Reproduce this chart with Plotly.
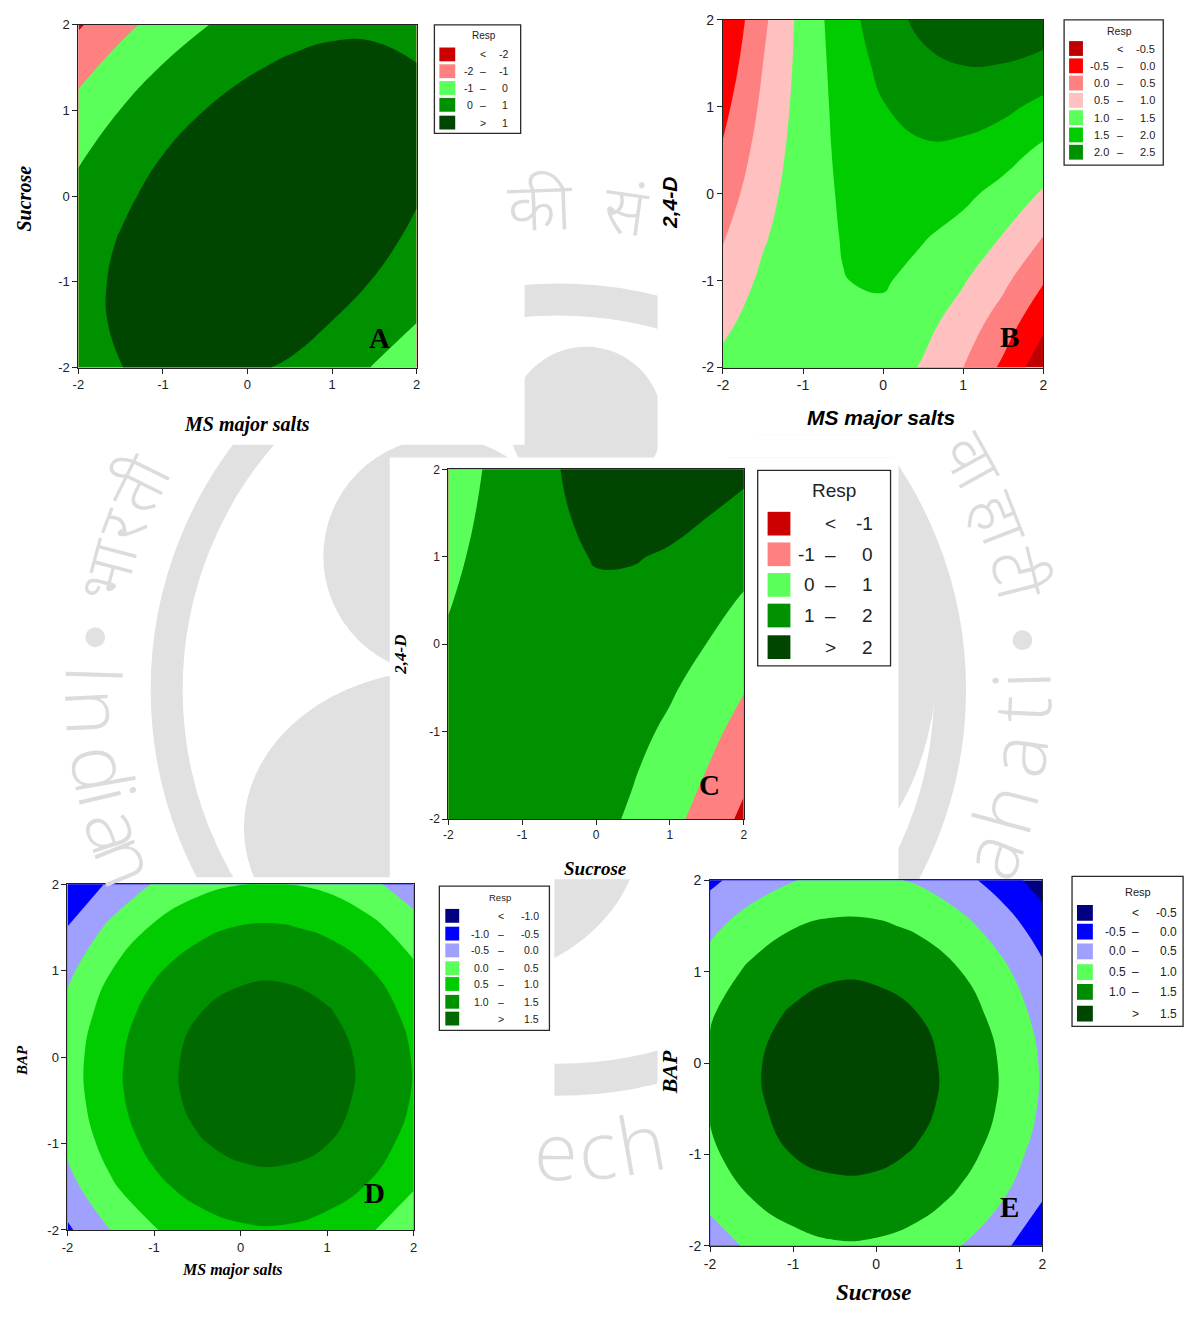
import math
import plotly.graph_objects as go

# ---------------- chart data ----------------
grid = [-2.0, -1.5, -1.0, -0.5, 0.0, 0.5, 1.0, 1.5, 2.0]   # coded factor levels (x and y)
tick_vals = [-2, -1, 0, 1, 2]
tick_text = ["-2", "-1", "0", "1", "2"]

panel_letters = ["A", "B", "C", "D", "E"]
x_titles = ["MS major salts", "MS major salts", "Sucrose", "MS major salts", "Sucrose"]
y_titles = ["Sucrose", "2,4-D", "2,4-D", "BAP", "BAP"]
legend_title = "Resp"

# Panel A  (rows: y = -2 ... 2, columns: x = -2 ... 2)
a_levels = [-2, -1, 0, 1]
a_colors = ["#cc0000", "#ff8080", "#5aff5a", "#009100", "#004600"]
a_resp = [
    [0.68, 0.99, 1.16, 1.19, 1.10, 0.92, 0.55, -0.06, -0.63],
    [0.74, 1.11, 1.35, 1.45, 1.42, 1.26, 0.97, 0.54, -0.02],
    [0.71, 1.14, 1.45, 1.61, 1.65, 1.55, 1.33, 0.96, 0.47],
    [0.55, 1.05, 1.42, 1.65, 1.75, 1.72, 1.56, 1.26, 0.83],
    [0.27, 0.83, 1.27, 1.56, 1.73, 1.76, 1.67, 1.43, 1.07],
    [-0.14, 0.49, 0.99, 1.35, 1.58, 1.68, 1.65, 1.48, 1.18],
    [-0.67, 0.02, 0.59, 1.01, 1.31, 1.47, 1.51, 1.40, 1.17],
    [-1.33, -0.57, 0.06, 0.55, 0.91, 1.14, 1.24, 1.20, 1.03],
    [-2.11, -1.29, -0.60, -0.04, 0.39, 0.68, 0.85, 0.87, 0.77],
]

# Panel B
b_levels = [-0.5, 0.0, 0.5, 1.0, 1.5, 2.0, 2.5]
b_colors = ["#c00000", "#ff0000", "#ff8080", "#ffc0c0", "#5aff5a", "#00cc00", "#009100", "#006000"]
b_resp = [
    [1.13, 1.37, 1.48, 1.44, 1.27, 0.95, 0.50, -0.10, -0.83],
    [0.90, 1.23, 1.41, 1.46, 1.37, 1.14, 0.77, 0.25, -0.40],
    [0.68, 1.09, 1.36, 1.49, 1.55, 1.33, 1.04, 0.61, 0.04],
    [0.46, 0.95, 1.31, 1.52, 1.59, 1.53, 1.32, 0.97, 0.49],
    [0.25, 0.83, 1.26, 1.56, 1.72, 1.73, 1.61, 1.34, 0.94],
    [0.05, 0.71, 1.23, 1.61, 1.85, 1.94, 1.90, 1.72, 1.40],
    [-0.14, 0.60, 1.20, 1.66, 1.98, 2.17, 2.21, 2.11, 1.87],
    [-0.33, 0.50, 1.18, 1.72, 2.13, 2.39, 2.52, 2.50, 2.35],
    [-0.49, 0.40, 1.17, 1.79, 2.28, 2.63, 2.84, 2.90, 2.83],
]

# Panel C
c_levels = [-1, 0, 1, 2]
c_colors = ["#cc0000", "#ff8080", "#5aff5a", "#009100", "#004600"]
c_resp = [
    [1.85, 1.89, 1.82, 1.62, 1.30, 0.86, 0.29, -0.40, -1.21],
    [1.67, 1.79, 1.79, 1.67, 1.42, 1.05, 0.56, -0.05, -0.79],
    [1.48, 1.68, 1.76, 1.71, 1.54, 1.25, 0.84, 0.30, -0.36],
    [1.30, 1.58, 1.73, 1.76, 1.66, 1.45, 1.11, 0.65, 0.06],
    [1.12, 1.47, 1.70, 1.80, 1.78, 1.64, 1.38, 0.99, 0.49],
    [0.94, 1.37, 1.67, 1.85, 1.91, 1.84, 1.65, 1.34, 0.91],
    [0.76, 1.26, 1.64, 1.89, 2.03, 2.04, 1.93, 1.69, 1.34],
    [0.58, 1.15, 1.61, 1.94, 2.15, 2.24, 2.20, 2.04, 1.76],
    [0.40, 1.05, 1.58, 1.99, 2.27, 2.43, 2.47, 2.39, 2.19],
]

# Panel D
d_levels = [-1.0, -0.5, 0.0, 0.5, 1.0, 1.5]
d_colors = ["#000080", "#0000ff", "#a0a0ff", "#5aff5a", "#00cc00", "#009100", "#006a00"]
d_resp = [
    [-0.58, 0.01, 0.47, 0.77, 0.93, 0.95, 0.82, 0.55, 0.13],
    [-0.17, 0.43, 0.88, 1.18, 1.34, 1.36, 1.23, 0.96, 0.54],
    [0.11, 0.70, 1.15, 1.46, 1.62, 1.64, 1.51, 1.23, 0.82],
    [0.25, 0.85, 1.30, 1.61, 1.77, 1.78, 1.65, 1.38, 0.96],
    [0.27, 0.86, 1.31, 1.62, 1.78, 1.80, 1.67, 1.39, 0.97],
    [0.15, 0.74, 1.19, 1.49, 1.66, 1.68, 1.55, 1.27, 0.86],
    [-0.11, 0.49, 0.94, 1.25, 1.41, 1.43, 1.30, 1.02, 0.60],
    [-0.49, 0.11, 0.56, 0.86, 1.03, 1.04, 0.91, 0.64, 0.22],
    [-0.97, -0.41, 0.04, 0.35, 0.49, 0.51, 0.40, 0.12, -0.30],
]

# Panel E
e_levels = [-0.5, 0.0, 0.5, 1.0, 1.5]
e_colors = ["#000080", "#0000ff", "#a0a0ff", "#5aff5a", "#008c00", "#004600"]
e_resp = [
    [0.23, 0.60, 0.83, 0.95, 0.93, 0.79, 0.52, 0.13, -0.39],
    [0.63, 0.99, 1.23, 1.34, 1.33, 1.19, 0.92, 0.53, 0.01],
    [0.91, 1.27, 1.51, 1.62, 1.60, 1.46, 1.19, 0.80, 0.28],
    [1.05, 1.41, 1.65, 1.76, 1.75, 1.61, 1.34, 0.95, 0.43],
    [1.07, 1.44, 1.67, 1.78, 1.77, 1.63, 1.36, 0.97, 0.45],
    [0.97, 1.33, 1.57, 1.68, 1.66, 1.52, 1.25, 0.86, 0.34],
    [0.73, 1.10, 1.33, 1.45, 1.43, 1.29, 1.02, 0.63, 0.11],
    [0.38, 0.74, 0.98, 1.09, 1.07, 0.93, 0.66, 0.27, -0.25],
    [-0.11, 0.25, 0.49, 0.60, 0.59, 0.45, 0.18, -0.22, -0.74],
]

# watermark texts (background logo)
wm_latin = ["I", "n", "d", "i", "a", "n", "e", "c", "h", "a", "h", "a", "t", "i"]
wm_hindi = ["भा", "र", "ती", "की", "सं", "वा", "हा", "टी"]

# ---------------- layout helpers ----------------
W, H = 1199, 1317


def px(x):
    return x / W


def py(y):
    return 1 - y / H


SERIF = "Liberation Serif"
SANS = "Liberation Sans"


def fmt_int(v):
    return str(int(v))


def fmt_dec(v):
    return f"{v:.1f}"


def legend_rows(levels, fmt):
    rows = [("", "<", fmt(levels[0]))]
    for lo, hi in zip(levels[:-1], levels[1:]):
        rows.append((fmt(lo), "\u2013", fmt(hi)))
    rows.append(("", ">", fmt(levels[-1])))
    return rows


def ann(text, x, y, size, family, color="#000000", xanchor="center", yanchor="middle",
        angle=0, weight="normal", style="normal"):
    return dict(text=text, x=px(x), y=py(y), xref="paper", yref="paper", showarrow=False,
                xanchor=xanchor, yanchor=yanchor, textangle=angle, borderpad=0,
                font=dict(size=size, family=family, color=color, weight=weight, style=style))


def rect(x0, y0, x1, y1, fill, line_color=None, lw=0, layer="below"):
    return dict(type="rect", xref="paper", yref="paper", x0=px(x0), x1=px(x1),
                y0=py(y1), y1=py(y0), fillcolor=fill, layer=layer,
                line=dict(color=line_color or fill, width=lw))


def ellipse(cx, cy, rx, ry, fill=None, line_color=None, lw=0, layer="below"):
    return dict(type="circle", xref="paper", yref="paper", x0=px(cx - rx), x1=px(cx + rx),
                y0=py(cy + ry), y1=py(cy - ry), fillcolor=fill or "rgba(0,0,0,0)",
                layer=layer, line=dict(color=line_color or "rgba(0,0,0,0)", width=lw))


panels = [
    dict(z=a_resp, levels=a_levels, colors=a_colors, fmt=fmt_int,
         plot=(73, 414, 17, 364), tick=13, tfam=SERIF,
         xt=(243, 422, 20), yt=(18, 193, 20), letter=(377, 334),
         leg=dict(box=(432, 17, 519, 127), title=(482, 28, 10), sw=(437, 453, 14),
                  rows=[47, 64, 81, 98, 116], cols=(472, 481, 507), size=10.5, n=5)),
    dict(z=b_resp, levels=b_levels, colors=b_colors, fmt=fmt_dec,
         plot=(723, 1046, 12, 364), tick=14, tfam=SANS,
         xt=(882, 415, 21), yt=(669, 197, 21), letter=(1012, 333),
         leg=dict(box=(1067, 12, 1167, 159), title=(1123, 23, 10.5), sw=(1072, 1086, 15),
                  rows=[41, 58.5, 76, 93.5, 111, 128.5, 146], cols=(1113, 1123.5, 1160),
                  size=11, n=7)),
    dict(z=c_resp, levels=c_levels, colors=c_colors, fmt=fmt_int,
         plot=(446, 744, 467, 821), tick=12, tfam=SERIF,
         xt=(594, 871, 19), yt=(397, 655, 17), letter=(709, 787),
         leg=dict(box=(758, 468, 892, 666), title=(835, 488, 19), sw=(768, 791, 24),
                  rows=[522, 553, 584, 615, 647], cols=(817, 831, 875), size=19, n=5)),
    dict(z=d_resp, levels=d_levels, colors=d_colors, fmt=fmt_dec,
         plot=(62, 411, 887, 1237), tick=13, tfam=SERIF,
         xt=(228, 1278, 16), yt=(16, 1065, 15), letter=(372, 1200),
         leg=dict(box=(437, 889, 548, 1035), title=(498, 900, 9.5), sw=(443, 457, 14),
                  rows=[919, 937, 954, 972, 988, 1006, 1023], cols=(488, 499, 538),
                  size=10.5, n=7)),
    dict(z=e_resp, levels=e_levels, colors=e_colors, fmt=fmt_dec,
         plot=(710, 1045, 883, 1253), tick=14, tfam=SERIF,
         xt=(875, 1300, 23), yt=(669, 1077, 22), letter=(1012, 1214),
         leg=dict(box=(1075, 879, 1187, 1031), title=(1142, 895, 11), sw=(1080, 1096, 16),
                  rows=[916, 935, 955, 976, 996, 1018], cols=(1130, 1139, 1182),
                  size=12, n=6)),
]

fig = go.Figure()
annotations = []
shapes = []

# ---------------- background watermark (logo, drawn below everything) ----------------
WM_GRAY = "#e1e1e1"
WM_TEXT = "#dcdcdc"
WCX, WCY = 557, 690
shapes.append(ellipse(WCX, WCY, 395, 395, line_color=WM_GRAY, lw=32))
shapes.append(ellipse(440, 555, 120, 120, fill=WM_GRAY))
shapes.append(ellipse(585, 420, 77, 77, fill=WM_GRAY))
shapes.append(ellipse(440, 830, 200, 160, fill=WM_GRAY))
shapes.append(ellipse(800, 650, 140, 230, fill=WM_GRAY))
shapes.append(ellipse(90, 637, 10, 10, fill=WM_GRAY))
shapes.append(ellipse(1025, 640, 10, 10, fill=WM_GRAY))

# white backgrounds of the five pasted panels
for (x0, y0, x1, y1) in [(0, 0, 523, 442), (657, 0, 1199, 432), (657, 432, 900, 455),
                         (387, 455, 900, 882), (0, 880, 553, 1317), (657, 882, 1199, 1317)]:
    shapes.append(rect(x0, y0, x1, y1, "#ffffff"))

latin_phi = [271.8, 267.2, 260.1, 256.75, 252.3, 248.3, 180.3, 175.2, 169.8,
             111.0, 104.9, 98.25, 92.45, 88.77]
for ch, phi in zip(wm_latin, latin_phi):
    r = 465
    x = WCX + r * math.sin(math.radians(phi))
    y = WCY - r * math.cos(math.radians(phi))
    annotations.append(ann(ch, x, y, 80, "Open Sans", color=WM_TEXT, angle=phi - 180,
                           weight=300))

hindi_pos = [(284.8, 462), (290.7, 462), (296.3, 462), (357.9, 482), (8.0, 482),
             (61.0, 470), (68.8, 470), (75.8, 470)]
for ch, (phi, r) in zip(wm_hindi, hindi_pos):
    x = WCX + r * math.sin(math.radians(phi))
    y = WCY - r * math.cos(math.radians(phi))
    ang = phi if phi <= 180 else phi - 360
    annotations.append(ann(ch, x, y, 66, "Noto Sans Devanagari, Noto Sans, sans-serif",
                           color=WM_TEXT, angle=ang, weight=300))

# ---------------- contour panels ----------------
for i, p in enumerate(panels):
    k = i + 1
    xid = "x" if k == 1 else f"x{k}"
    yid = "y" if k == 1 else f"y{k}"
    lv = p["levels"]
    n = len(lv)
    cscale = [[j / n, c] for j, c in enumerate(p["colors"])]
    fig.add_trace(go.Contour(
        x=grid, y=grid, z=p["z"], xaxis=xid, yaxis=yid,
        autocontour=False,
        contours=dict(start=lv[0], end=lv[-1], size=lv[1] - lv[0],
                      coloring="fill", showlines=False),
        colorscale=cscale, showscale=False, hoverinfo="skip",
        line=dict(width=0, smoothing=1.3),
    ))
    x0, x1, y0, y1 = p["plot"]
    common = dict(range=[-2, 2], tickmode="array", tickvals=tick_vals, ticktext=tick_text,
                  ticks="outside", ticklen=5, tickwidth=1, tickcolor="#222222",
                  showline=True, linewidth=1, linecolor="#222222", mirror=True,
                  showgrid=False, zeroline=False, fixedrange=True,
                  tickfont=dict(family=SANS, size=p["tick"], color="#222222"))
    fig.layout["xaxis" if k == 1 else f"xaxis{k}"] = dict(
        domain=[px(x0), px(x1)], anchor=yid, **common)
    fig.layout["yaxis" if k == 1 else f"yaxis{k}"] = dict(
        domain=[py(y1), py(y0)], anchor=xid, **common)

    # axis titles and panel letter
    tx, ty, ts = p["xt"]
    annotations.append(ann(x_titles[i], tx, ty, ts, p["tfam"], weight="bold", style="italic"))
    tx, ty, ts = p["yt"]
    annotations.append(ann(y_titles[i], tx, ty, ts, p["tfam"], weight="bold", style="italic",
                           angle=-90))
    lx, ly = p["letter"]
    annotations.append(ann(panel_letters[i], lx, ly, 29, SERIF, weight="bold"))

    # legend box (Minitab style)
    g = p["leg"]
    bx0, by0, bx1, by1 = g["box"]
    shapes.append(rect(bx0, by0, bx1, by1, "#ffffff", line_color="#2a2a2a", lw=1.3,
                       layer="above"))
    ttx, tty, tts = g["title"]
    annotations.append(ann(legend_title, ttx, tty, tts, SANS, color="#222222"))
    rows = legend_rows(lv, p["fmt"])[:g["n"]]
    sx0, sx1, sh = g["sw"]
    c1, c2, c3 = g["cols"]
    for (lo, mid, hi), color, ry in zip(rows, p["colors"], g["rows"]):
        shapes.append(rect(sx0, ry - sh / 2, sx1, ry + sh / 2, color, layer="above"))
        if lo:
            annotations.append(ann(lo, c1, ry, g["size"], SANS, color="#222222", xanchor="right"))
        annotations.append(ann(mid, c2, ry, g["size"], SANS, color="#222222"))
        annotations.append(ann(hi, c3, ry, g["size"], SANS, color="#222222", xanchor="right"))

fig.update_layout(
    width=W, height=H,
    margin=dict(l=0, r=0, t=0, b=0),
    paper_bgcolor="#ffffff", plot_bgcolor="rgba(0,0,0,0)",
    showlegend=False,
    annotations=annotations, shapes=shapes,
)

fig.write_html("out.html")
